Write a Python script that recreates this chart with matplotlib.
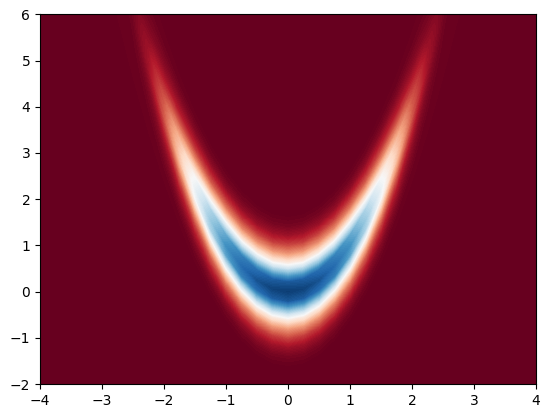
import numpy as np
import matplotlib
matplotlib.use("Agg")
import matplotlib.pyplot as plt

# stations along the right arm of the band, mirrored below
x_stations = [0, 0.25, 0.5, 0.75, 1, 1.25, 1.5, 1.75, 2, 2.25, 2.5, 2.75]
# centre line height of the band read at each station
ridge_y = [0, 0.06, 0.25, 0.56, 1, 1.56, 2.25, 3.06, 4, 5.06, 6.25, 7.56]
# vertical distance from the centre line
offsets = [0, 0.2, 0.4, 0.6, 0.8, 1.0, 1.2, 1.4, 1.6]

# estimated density, one row per station, one column per offset
density = [
    [0.97, 0.92, 0.70, 0.46, 0.28, 0.16, 0.07, 0.02, 0],
    [0.96, 0.91, 0.69, 0.45, 0.28, 0.15, 0.07, 0.02, 0],
    [0.93, 0.88, 0.67, 0.44, 0.27, 0.15, 0.065, 0.02, 0],
    [0.88, 0.84, 0.63, 0.41, 0.25, 0.14, 0.06, 0.018, 0],
    [0.80, 0.76, 0.58, 0.38, 0.23, 0.13, 0.055, 0.016, 0],
    [0.68, 0.65, 0.49, 0.32, 0.19, 0.11, 0.048, 0.014, 0],
    [0.53, 0.50, 0.38, 0.25, 0.15, 0.085, 0.037, 0.011, 0],
    [0.36, 0.34, 0.26, 0.17, 0.10, 0.058, 0.025, 0.007, 0],
    [0.19, 0.18, 0.137, 0.09, 0.053, 0.03, 0.013, 0.004, 0],
    [0.075, 0.071, 0.054, 0.035, 0.021, 0.012, 0.005, 0.002, 0],
    [0.02, 0.019, 0.014, 0.009, 0.006, 0.003, 0.001, 0, 0],
    [0, 0, 0, 0, 0, 0, 0, 0, 0],
]

xs = np.array(x_stations)
ry = np.array(ridge_y)
off = np.array(offsets)
z = np.array(density)

# mirror left/right and above/below the centre line
xs_full = np.concatenate((-xs[:0:-1], xs))
ry_full = np.concatenate((ry[:0:-1], ry))
off_full = np.concatenate((-off[:0:-1], off))
z_full = np.concatenate((z[:, :0:-1], z), axis=1)
z_full = np.concatenate((z_full[:0:-1], z_full), axis=0)

X = np.repeat(xs_full[:, None], len(off_full), axis=1)
Y = ry_full[:, None] + off_full[None, :]

cmap = plt.get_cmap("RdBu")

fig = plt.figure(figsize=(5.5, 4.18), dpi=100)
ax = fig.add_axes([40 / 550, 34 / 418, 496 / 550, 369.6 / 418])
ax.set_facecolor(cmap(0.0))
ax.contourf(X, Y, z_full, levels=np.linspace(0, 1, 129), cmap=cmap, vmin=0, vmax=1, antialiased=False)
ax.set_xlim(-4, 4)
ax.set_ylim(-2, 6)

fig.savefig("out.png", dpi=100)
